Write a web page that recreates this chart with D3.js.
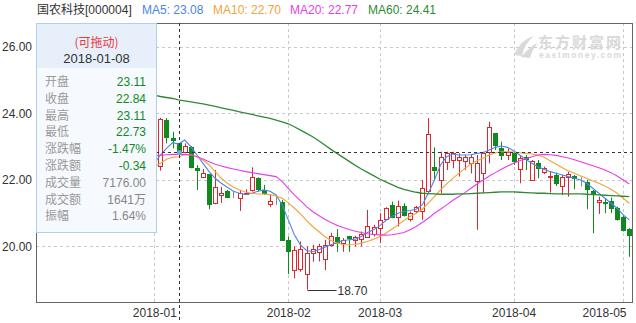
<!DOCTYPE html>
<html>
<head>
<meta charset="utf-8">
<script src="https://cdn.jsdelivr.net/npm/d3@7"></script>
<style>
body { margin: 0; background: #fff; }
svg { display: block; font-family: Arial, "Liberation Sans", "Noto Sans CJK SC", sans-serif; }
</style>
</head>
<body>
<div id="chart"></div>
<script>
// trading days shown on the chart
var dates = [
  "2018-01-02","2018-01-03","2018-01-04","2018-01-05","2018-01-08","2018-01-09","2018-01-10","2018-01-11","2018-01-12",
  "2018-01-15","2018-01-16","2018-01-17","2018-01-18","2018-01-19","2018-01-22","2018-01-23","2018-01-24","2018-01-25",
  "2018-01-26","2018-01-29","2018-01-30","2018-01-31","2018-02-01","2018-02-02","2018-02-05","2018-02-06","2018-02-07",
  "2018-02-08","2018-02-09","2018-02-12","2018-02-13","2018-02-14","2018-02-22","2018-02-23","2018-02-26","2018-02-27",
  "2018-02-28","2018-03-01","2018-03-02","2018-03-05","2018-03-06","2018-03-07","2018-03-08","2018-03-09","2018-03-12",
  "2018-03-13","2018-03-14","2018-03-15","2018-03-16","2018-03-19","2018-03-20","2018-03-21","2018-03-22","2018-03-23",
  "2018-03-26","2018-03-27","2018-03-28","2018-03-29","2018-03-30","2018-04-02","2018-04-03","2018-04-04","2018-04-09",
  "2018-04-10","2018-04-11","2018-04-12","2018-04-13","2018-04-16","2018-04-17","2018-04-18","2018-04-19","2018-04-20",
  "2018-04-23","2018-04-24","2018-04-25","2018-04-26","2018-04-27","2018-05-02","2018-05-03"
];

var opens = [22.50,22.42,23.80,23.25,23.11,22.84,23.00,22.35,22.07,22.17,21.30,21.55,21.67,21.55,21.45,21.58,21.70,22.05,
  21.70,21.28,21.35,21.33,20.20,19.29,19.31,19.17,19.81,19.84,19.64,20.05,20.29,20.11,20.32,20.20,20.22,20.28,20.38,20.55,
  20.82,21.25,20.90,21.22,20.82,21.05,21.05,21.65,22.38,21.98,22.55,22.60,22.62,22.58,22.50,21.97,22.20,22.82,23.40,22.95,
  22.75,22.80,22.32,22.68,22.00,22.50,22.22,22.08,22.15,21.82,22.10,22.12,21.92,21.95,21.68,21.33,21.34,21.37,21.17,20.90,20.52];
var highs = [22.60,23.87,23.86,23.45,23.11,23.10,23.02,22.45,22.33,22.17,22.30,21.79,21.70,21.67,21.70,21.72,22.38,22.08,
  21.85,21.55,21.55,21.40,20.30,20.00,20.15,20.00,20.05,20.08,20.20,20.41,20.52,20.25,20.32,20.32,20.45,21.10,20.65,21.00,
  21.18,21.35,21.38,21.30,21.05,21.22,22.00,23.86,22.98,22.85,22.85,22.85,22.80,22.75,22.75,22.75,22.85,23.75,23.40,23.15,
  22.95,22.85,22.75,22.75,22.60,22.60,22.40,22.25,22.22,22.15,22.25,22.15,22.08,22.00,21.70,21.50,21.45,21.47,21.20,20.95,20.55];
var lows = [22.20,22.28,23.10,22.95,22.73,22.80,22.35,21.70,22.06,21.12,21.27,21.31,21.45,21.46,21.07,21.55,21.65,21.65,
  21.55,21.18,21.25,20.18,19.17,19.04,19.24,18.70,19.54,19.55,19.29,20.00,19.84,19.84,19.84,20.00,20.00,20.28,20.30,20.10,
  20.80,20.85,20.60,20.90,20.75,21.00,20.80,21.60,22.00,21.60,22.30,22.35,22.10,22.30,22.20,20.50,21.60,22.50,22.90,22.60,
  22.60,22.45,21.90,22.30,21.98,22.05,22.18,21.62,21.82,21.55,21.50,21.72,21.80,21.12,20.40,20.98,21.00,21.00,20.78,20.45,19.69];
var closes = [22.40,23.83,23.30,23.18,22.84,23.02,22.40,22.30,22.20,21.28,21.78,21.60,21.48,21.55,21.60,21.62,22.08,21.72,
  21.60,21.38,21.35,20.20,19.87,19.89,19.92,19.81,19.92,20.02,20.05,20.32,20.10,20.20,20.25,20.28,20.38,20.62,20.60,20.80,
  21.15,20.90,21.22,20.95,21.00,21.18,21.75,23.37,22.30,22.68,22.82,22.82,22.70,22.70,22.68,22.50,22.80,23.58,23.05,22.75,
  22.85,22.55,22.65,22.62,22.57,22.35,22.35,22.12,21.92,22.10,22.18,22.05,21.92,21.75,21.58,21.40,21.30,21.15,20.84,20.52,20.35];

// moving averages
var ma5 = [22.50,22.75,22.95,23.12,23.08,23.20,23.00,22.75,22.50,22.25,22.05,21.90,21.78,21.66,21.60,21.56,21.60,21.66,
  21.70,21.66,21.55,21.25,20.80,20.35,20.05,19.88,19.84,19.90,19.98,20.05,20.12,20.18,20.20,20.22,20.30,20.42,20.50,20.62,
  20.78,20.90,21.00,21.05,21.08,21.12,21.25,21.60,22.00,22.45,22.70,22.78,22.75,22.75,22.76,22.80,22.82,22.90,22.98,23.02,
  22.98,22.88,22.75,22.62,22.50,22.40,22.32,22.25,22.20,22.15,22.10,22.05,22.00,21.90,21.75,21.60,21.45,21.30,21.15,20.95,20.80];
var ma10 = [22.40,22.50,22.62,22.68,22.70,22.76,22.76,22.70,22.60,22.45,22.25,22.05,21.90,21.78,21.70,21.64,21.60,21.58,
  21.58,21.56,21.52,21.45,21.32,21.15,20.98,20.78,20.60,20.45,20.30,20.18,20.10,20.06,20.05,20.06,20.10,20.15,20.22,20.30,
  20.40,20.52,20.65,20.78,20.90,21.00,21.12,21.30,21.50,21.70,21.88,22.05,22.20,22.35,22.48,22.58,22.66,22.75,22.82,22.85,
  22.85,22.84,22.82,22.80,22.78,22.75,22.68,22.58,22.47,22.37,22.27,22.20,22.12,22.05,21.97,21.90,21.82,21.72,21.60,21.45,21.30];
var ma20 = [22.72,22.74,22.76,22.77,22.77,22.77,22.75,22.70,22.63,22.55,22.47,22.42,22.37,22.33,22.29,22.25,22.22,22.19,
  22.16,22.13,22.10,21.95,21.75,21.55,21.38,21.20,21.05,20.93,20.82,20.72,20.64,20.57,20.51,20.46,20.42,20.38,20.36,20.35,
  20.34,20.35,20.38,20.42,20.50,20.60,20.72,20.85,21.00,21.12,21.25,21.38,21.50,21.62,21.75,21.88,22.00,22.12,22.22,22.32,
  22.42,22.50,22.58,22.64,22.70,22.75,22.77,22.76,22.74,22.70,22.66,22.61,22.55,22.49,22.43,22.37,22.30,22.22,22.12,22.00,21.88];
var ma60 = [24.55,24.51,24.48,24.45,24.41,24.38,24.35,24.32,24.29,24.25,24.21,24.17,24.13,24.09,24.05,24.01,23.97,23.93,
  23.89,23.85,23.80,23.75,23.69,23.60,23.50,23.40,23.30,23.18,23.05,22.92,22.80,22.68,22.56,22.44,22.33,22.23,22.13,22.03,
  21.94,21.86,21.78,21.72,21.67,21.63,21.60,21.59,21.58,21.57,21.57,21.57,21.58,21.58,21.59,21.60,21.61,21.62,21.63,21.64,
  21.64,21.64,21.63,21.62,21.61,21.60,21.60,21.59,21.58,21.58,21.58,21.58,21.58,21.57,21.56,21.55,21.54,21.53,21.52,21.51,21.50];

var yTicks = [20, 22, 24, 26];
var monthDays = ["2018-01-02", "2018-02-01", "2018-03-01", "2018-04-02", "2018-05-02"];
var monthLabels = ["2018-01", "2018-02", "2018-03", "2018-04", "2018-05"];

var stockName = "国农科技[000004]";
var pickDate = "2018-01-08";
var pickVolume = "7176.00";
var pickAmount = "1641万";

var maNames = ["MA5", "MA10", "MA20", "MA60"];
var maSeries = [ma5, ma10, ma20, ma60];
var maColors = ["#4a86e8", "#efa43c", "#e83ee8", "#2f8a35"];

var upColor = "#e0242b", downColor = "#0f8a1f", flatColor = "#888";

var W = 636, H = 323;
var plotL = 36, plotR = 632, plotT = 23, plotB = 302;

var svg = d3.select("#chart").append("svg")
    .attr("width", W)
    .attr("height", H);

var x = d3.scalePoint().domain(dates).range([154.3, 629.3]);
var y = d3.scaleLinear().domain([18.33, 26.72]).range([plotB, plotT]);

function px(v) { return Math.round(v) + 0.5; }

// grid
var grid = svg.append("g");
grid.selectAll(".hg").data(yTicks).enter().append("line")
    .attr("x1", plotL).attr("x2", plotR)
    .attr("y1", function(d) { return px(y(d)); })
    .attr("y2", function(d) { return px(y(d)); })
    .attr("stroke", "#c8c8c8").attr("stroke-dasharray", "3,3");
grid.selectAll(".vg").data(monthDays).enter().append("line")
    .attr("x1", function(d) { return px(x(d)); })
    .attr("x2", function(d) { return px(x(d)); })
    .attr("y1", plotT).attr("y2", plotB)
    .attr("stroke", "#c8c8c8").attr("stroke-dasharray", "3,3");

// watermark
var wm = svg.append("g").attr("fill", "#d9d9d9");
wm.append("path")
    .attr("d", "M514,55 Q520,40 534,36 Q524,44 522,56 Z M521,57 Q530,46 538,43 Q532,50 530,58 Z");
wm.append("text").attr("x", 538).attr("y", 48)
    .attr("font-size", 15).attr("font-weight", "bold")
    .attr("font-family", "'Noto Sans CJK SC', sans-serif")
    .attr("textLength", 83).text("东方财富网");
wm.append("text").attr("x", 539).attr("y", 58)
    .attr("font-size", 8.5).attr("font-weight", "bold")
    .attr("textLength", 82).text("eastmoney.com");

// candles
var candles = svg.append("g").selectAll("g").data(dates).enter().append("g");
function candleColor(i) {
    if (closes[i] > opens[i]) return upColor;
    if (closes[i] < opens[i]) return downColor;
    return flatColor;
}
candles.append("line")
    .attr("x1", function(d) { return px(x(d)); })
    .attr("x2", function(d) { return px(x(d)); })
    .attr("y1", function(d, i) { return y(highs[i]); })
    .attr("y2", function(d, i) { return y(lows[i]); })
    .attr("stroke", function(d, i) { return candleColor(i); });
candles.append("rect")
    .attr("x", function(d) { return Math.round(x(d)) - 2 + 0.5; })
    .attr("width", 4)
    .attr("y", function(d, i) { return Math.round(y(Math.max(opens[i], closes[i]))) + 0.5; })
    .attr("height", function(d, i) { return Math.max(0, Math.round(Math.abs(y(opens[i]) - y(closes[i])))); })
    .attr("fill", function(d, i) { return closes[i] > opens[i] ? "#fff" : candleColor(i); })
    .attr("stroke", function(d, i) { return candleColor(i); });

// moving averages
maSeries.forEach(function(s, k) {
    var line = d3.line()
        .x(function(d, i) { return x(dates[i]); })
        .y(function(d) { return y(d); });
    svg.append("path").datum(s)
        .attr("d", line)
        .attr("fill", "none")
        .attr("stroke", maColors[k])
        .attr("stroke-width", k == 3 ? 1.3 : 1.1);
});

// lowest price marker
var lowIdx = d3.minIndex(lows);
var lx = px(x(dates[lowIdx])), ly = px(y(lows[lowIdx]));
svg.append("line").attr("x1", lx).attr("x2", lx + 29).attr("y1", ly).attr("y2", ly)
    .attr("stroke", "#333");
svg.append("text").attr("x", lx + 30).attr("y", ly).attr("dy", "0.35em")
    .attr("font-size", 12).attr("fill", "#333").text(lows[lowIdx].toFixed(2));

// frame
svg.append("rect").attr("x", plotL + 0.5).attr("y", plotT + 0.5)
    .attr("width", plotR - plotL).attr("height", plotB - plotT)
    .attr("fill", "none").attr("stroke", "#666");

// axes labels
var yAxis = d3.axisLeft(y).tickValues(yTicks).tickFormat(d3.format(".2f")).tickSize(0).tickPadding(4);
var gy = svg.append("g").attr("transform", "translate(" + plotL + ",0)").call(yAxis);
gy.select(".domain").remove();
gy.selectAll("text").attr("font-size", 12).attr("fill", "#333").attr("font-family", null);

var xAxis = d3.axisBottom(x).tickValues(monthDays)
    .tickFormat(function(d, i) { return monthLabels[i]; }).tickSize(0).tickPadding(6);
var gx = svg.append("g").attr("transform", "translate(0," + plotB + ")").call(xAxis);
gx.select(".domain").remove();
gx.selectAll("text").attr("font-size", 12).attr("fill", "#333").attr("font-family", null);
// keep the last month label inside the chart
gx.selectAll(".tick").each(function(d) {
    var t = d3.select(this).select("text");
    var w = t.node().getComputedTextLength();
    var over = x(d) + w / 2 - 626;
    if (over > 0) t.attr("x", -over);
});

// crosshair on the picked day
var pi = dates.indexOf(pickDate);
var cx = px(x(pickDate)), cy = px(y(closes[pi]));
svg.append("line").attr("x1", cx).attr("x2", cx).attr("y1", plotT).attr("y2", H)
    .attr("stroke", "#333").attr("stroke-dasharray", "3,3");
svg.append("line").attr("x1", plotL).attr("x2", plotR).attr("y1", cy).attr("y2", cy)
    .attr("stroke", "#333").attr("stroke-dasharray", "3,3");
svg.append("circle").attr("cx", cx).attr("cy", cy).attr("r", 2.5).attr("fill", "#6fa8e8");

// tooltip box
var tip = svg.append("g");
tip.append("rect").attr("x", plotL + 0.5).attr("y", plotT + 0.5).attr("width", 120).attr("height", 209)
    .attr("fill", "#f6f9fe").attr("stroke", "#b3cdec");
tip.append("rect").attr("x", plotL + 1).attr("y", plotT + 1).attr("width", 119).attr("height", 44)
    .attr("fill", "#e6effa");
tip.append("text").attr("x", 96.5).attr("y", 43).attr("dy", "0.35em").attr("text-anchor", "middle")
    .attr("font-size", 12).attr("fill", "#e8383d")
    .attr("font-family", "'Noto Sans CJK SC', sans-serif").text("(可拖动)");
tip.append("text").attr("x", 96.5).attr("y", 58).attr("dy", "0.35em").attr("text-anchor", "middle")
    .attr("font-size", 13).attr("fill", "#333").text(pickDate);

var prev = closes[pi - 1];
var rows = [
    ["开盘", opens[pi].toFixed(2), downColor],
    ["收盘", closes[pi].toFixed(2), downColor],
    ["最高", highs[pi].toFixed(2), downColor],
    ["最低", lows[pi].toFixed(2), downColor],
    ["涨跌幅", ((closes[pi] - prev) / prev * 100).toFixed(2) + "%", downColor],
    ["涨跌额", (closes[pi] - prev).toFixed(2), downColor],
    ["成交量", pickVolume, "#888"],
    ["成交额", pickAmount, "#888"],
    ["振幅", ((highs[pi] - lows[pi]) / prev * 100).toFixed(2) + "%", "#888"]
];
rows.forEach(function(r, k) {
    var ry = 81.7 + k * 16.8;
    tip.append("text").attr("x", 45).attr("y", ry).attr("dy", "0.35em")
        .attr("font-size", 12).attr("fill", "#999")
        .attr("font-family", "'Noto Sans CJK SC', sans-serif").text(r[0]);
    tip.append("text").attr("x", 146).attr("y", ry).attr("dy", "0.35em").attr("text-anchor", "end")
        .attr("font-size", 12).attr("fill", r[2]).text(r[1]);
});

// header
svg.append("text").attr("x", 37).attr("y", 10).attr("dy", "0.35em")
    .attr("font-size", 12).attr("fill", "#333").text(stockName);
var headX = [142, 213, 290, 368];
maNames.forEach(function(n, k) {
    svg.append("text").attr("x", headX[k]).attr("y", 10).attr("dy", "0.35em")
        .attr("font-size", 12).attr("fill", maColors[k])
        .text(n + ": " + maSeries[k][pi].toFixed(2));
});
</script>
</body>
</html>
